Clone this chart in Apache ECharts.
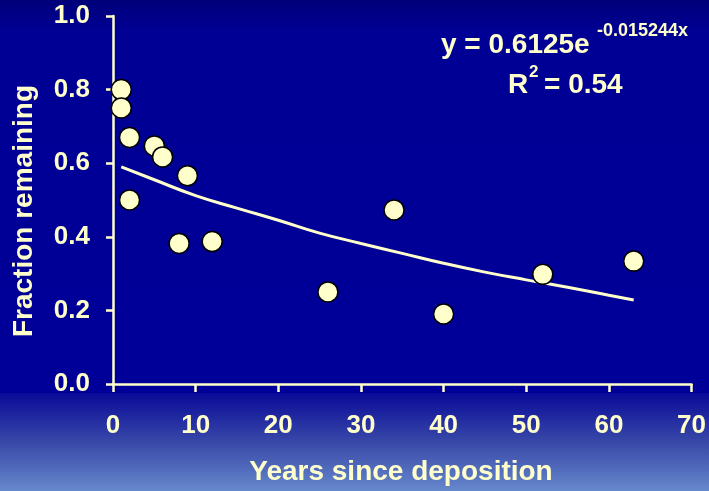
<!DOCTYPE html>
<html>
<head>
<meta charset="utf-8">
<script src="https://cdn.jsdelivr.net/npm/echarts@6/dist/echarts.min.js"></script>
<style>html,body{margin:0;padding:0;background:#000099;}#c{width:709px;height:491px;}</style>
</head>
<body>
<div id="c"></div>
<script>
// Observed data
var years = [1, 1, 2, 2, 5, 6, 8, 9, 12, 26, 34, 40, 52, 63];
var fraction = [0.80, 0.75, 0.67, 0.50, 0.647, 0.617, 0.382, 0.566, 0.387, 0.25, 0.473, 0.19, 0.298, 0.334];
// Trend line
var trendX = [1, 5, 10, 15, 20, 25, 30, 35, 40, 45, 50, 55, 60, 63];
var trendY = [0.590, 0.555, 0.512, 0.478, 0.445, 0.410, 0.382, 0.355, 0.328, 0.304, 0.283, 0.263, 0.241, 0.228];
var xTicks = [0, 10, 20, 30, 40, 50, 60, 70];
var yTicks = ['0.0', '0.2', '0.4', '0.6', '0.8', '1.0'];

var cream = '#FFFFCC';
var FONT = '"Liberation Sans", Arial, sans-serif';

var pts = years.map(function (x, i) { return [x, fraction[i]]; });
var trend = trendX.map(function (x, i) { return [x, trendY[i]]; });

var chart = echarts.init(document.getElementById('c'), null, {renderer: 'canvas'});
chart.setOption({
  animation: false,
  backgroundColor: 'transparent',
  graphic: [
    {type: 'rect', z: -10, silent: true, shape: {x: 0, y: 0, width: 709, height: 393},
      style: {fill: {type: 'linear', x: 0, y: 0, x2: 0, y2: 1, colorStops: [
        {offset: 0, color: '#00007a'}, {offset: 0.08, color: '#000094'}, {offset: 1, color: '#000099'}]}}},
    {type: 'rect', z: -10, silent: true, shape: {x: 0, y: 393, width: 709, height: 98},
      style: {fill: {type: 'linear', x: 0, y: 0, x2: 0, y2: 1, colorStops: [
        {offset: 0, color: '#0a0a98'}, {offset: 0.5, color: '#3848a8'}, {offset: 1, color: '#6688cc'}]}}},
    {type: 'text', x: 24, y: 211, rotation: Math.PI / 2,
      style: {text: 'Fraction remaining', fill: cream, font: 'bold 28px ' + FONT, align: 'center', verticalAlign: 'middle'}},
    {type: 'text', x: 401, y: 472,
      style: {text: 'Years since deposition', fill: cream, font: 'bold 28px ' + FONT, align: 'center', verticalAlign: 'middle'}},
    {type: 'text', x: 441, y: 45,
      style: {text: 'y = 0.6125e', fill: cream, font: 'bold 28px ' + FONT, align: 'left', verticalAlign: 'middle'}},
    {type: 'text', x: 597, y: 31,
      style: {text: '-0.015244x', fill: cream, font: 'bold 18px ' + FONT, align: 'left', verticalAlign: 'middle'}},
    {type: 'text', x: 508, y: 85,
      style: {text: 'R', fill: cream, font: 'bold 28px ' + FONT, align: 'left', verticalAlign: 'middle'}},
    {type: 'text', x: 529, y: 72,
      style: {text: '2', fill: cream, font: 'bold 17px ' + FONT, align: 'left', verticalAlign: 'middle'}},
    {type: 'text', x: 544, y: 85,
      style: {text: '= 0.54', fill: cream, font: 'bold 28px ' + FONT, align: 'left', verticalAlign: 'middle'}}
  ],
  grid: {left: 113, top: 16, width: 579, height: 368, containLabel: false},
  xAxis: {
    type: 'value', min: 0, max: 70, interval: 10,
    axisLine: {show: true, lineStyle: {color: cream, width: 2.5}},
    axisTick: {show: true, length: 8, lineStyle: {color: cream, width: 2.5}},
    splitLine: {show: false},
    axisLabel: {color: cream, fontSize: 26, fontWeight: 'bold', fontFamily: FONT, margin: 29,
      formatter: function (v) { return xTicks.indexOf(v) >= 0 ? String(v) : ''; }}
  },
  yAxis: {
    type: 'value', min: 0, max: 1, interval: 0.2,
    axisLine: {show: true, lineStyle: {color: cream, width: 2.5}},
    axisTick: {show: true, length: 7, lineStyle: {color: cream, width: 2.5}},
    splitLine: {show: false},
    axisLabel: {color: cream, fontSize: 26, fontWeight: 'bold', fontFamily: FONT, margin: 23,
      formatter: function (v) { return yTicks[Math.round(v / 0.2)]; }}
  },
  series: [
    {type: 'line', data: trend, smooth: true, showSymbol: false, z: 2,
      lineStyle: {color: cream, width: 3}},
    {type: 'scatter', data: pts, symbol: 'circle', symbolSize: 20, z: 3,
      itemStyle: {color: cream, borderColor: '#000000', borderWidth: 1.5, opacity: 1}}
  ]
});
</script>
</body>
</html>
